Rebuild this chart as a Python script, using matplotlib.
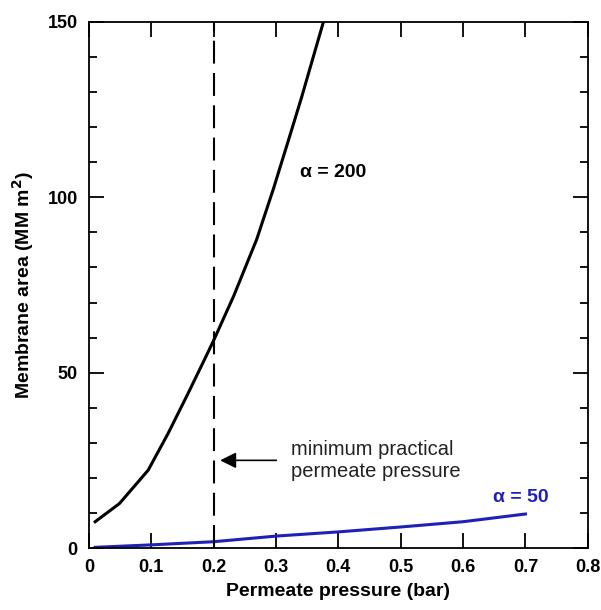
import matplotlib
matplotlib.use("Agg")
import matplotlib.pyplot as plt
from matplotlib.ticker import FixedLocator, FuncFormatter, MultipleLocator

plt.rcParams['font.family'] = ['Liberation Sans', 'DejaVu Sans']

# data
p200 = [0.01, 0.049, 0.095, 0.127, 0.159, 0.186, 0.2, 0.232, 0.269, 0.296, 0.32, 0.341, 0.376]
a200 = [7.5, 12.7, 22.2, 32.7, 44.1, 54.0, 59.2, 71.8, 88.0, 102.5, 116.3, 128.5, 150.0]
p50 = [0.01, 0.1, 0.2, 0.3, 0.4, 0.5, 0.6, 0.7]
a50 = [0.2, 0.9, 1.8, 3.4, 4.6, 6.0, 7.5, 9.7]
min_practical = 0.2
xticks = [0, 0.1, 0.2, 0.3, 0.4, 0.5, 0.6, 0.7, 0.8]
yticks = [0, 50, 100, 150]

fig = plt.figure(figsize=(6.01, 6.10), dpi=100)
ax = fig.add_axes([0.148, 0.1016, 0.83, 0.8624])

ax.plot(p200, a200, color='black', lw=2.2, solid_joinstyle='round')
ax.plot(p50, a50, color='#2020b8', lw=2.2, solid_joinstyle='round')
ax.axvline(min_practical, color='black', lw=1.5, dashes=(11, 4.5))

ax.set_xlim(0, 0.8)
ax.set_ylim(0, 150)
ax.xaxis.set_major_locator(FixedLocator(xticks))
ax.yaxis.set_major_locator(FixedLocator(yticks))
ax.yaxis.set_minor_locator(MultipleLocator(10))
ax.xaxis.set_major_formatter(FuncFormatter(lambda v, p: '0' if v == 0 else f'{v:.1f}'))

ax.tick_params(which='major', direction='in', length=11, width=1.3,
               top=True, right=True, labelsize=13)
ax.tick_params(axis='x', which='major', pad=8)
ax.tick_params(axis='y', which='major', pad=8)
ax.tick_params(which='minor', direction='in', length=6, width=1.3, right=True)
for lab in ax.get_xticklabels() + ax.get_yticklabels():
    lab.set_fontweight('bold')
for s in ax.spines.values():
    s.set_linewidth(1.3)

ax.set_xlabel('Permeate pressure (bar)', fontsize=14, fontweight='bold', labelpad=5)
ax.set_ylabel('Membrane area (MM m$^\\mathbf{2}$)', fontsize=14, fontweight='bold', labelpad=8)

ax.text(0.339, 107, 'α = 200', fontsize=14, fontweight='bold', va='center', ha='left')
ax.text(0.648, 14.5, 'α = 50', fontsize=14, fontweight='bold', va='center', ha='left',
        color='#2020b8')
ax.text(0.324, 25, 'minimum practical\npermeate pressure', fontsize=14.5,
        va='center', ha='left', color='#222222', linespacing=1.2)
ax.annotate('', xy=(0.206, 25), xytext=(0.305, 25),
            arrowprops=dict(arrowstyle='-|>', color='black', lw=1.2,
                            mutation_scale=24))

fig.savefig('out.png', dpi=100)
